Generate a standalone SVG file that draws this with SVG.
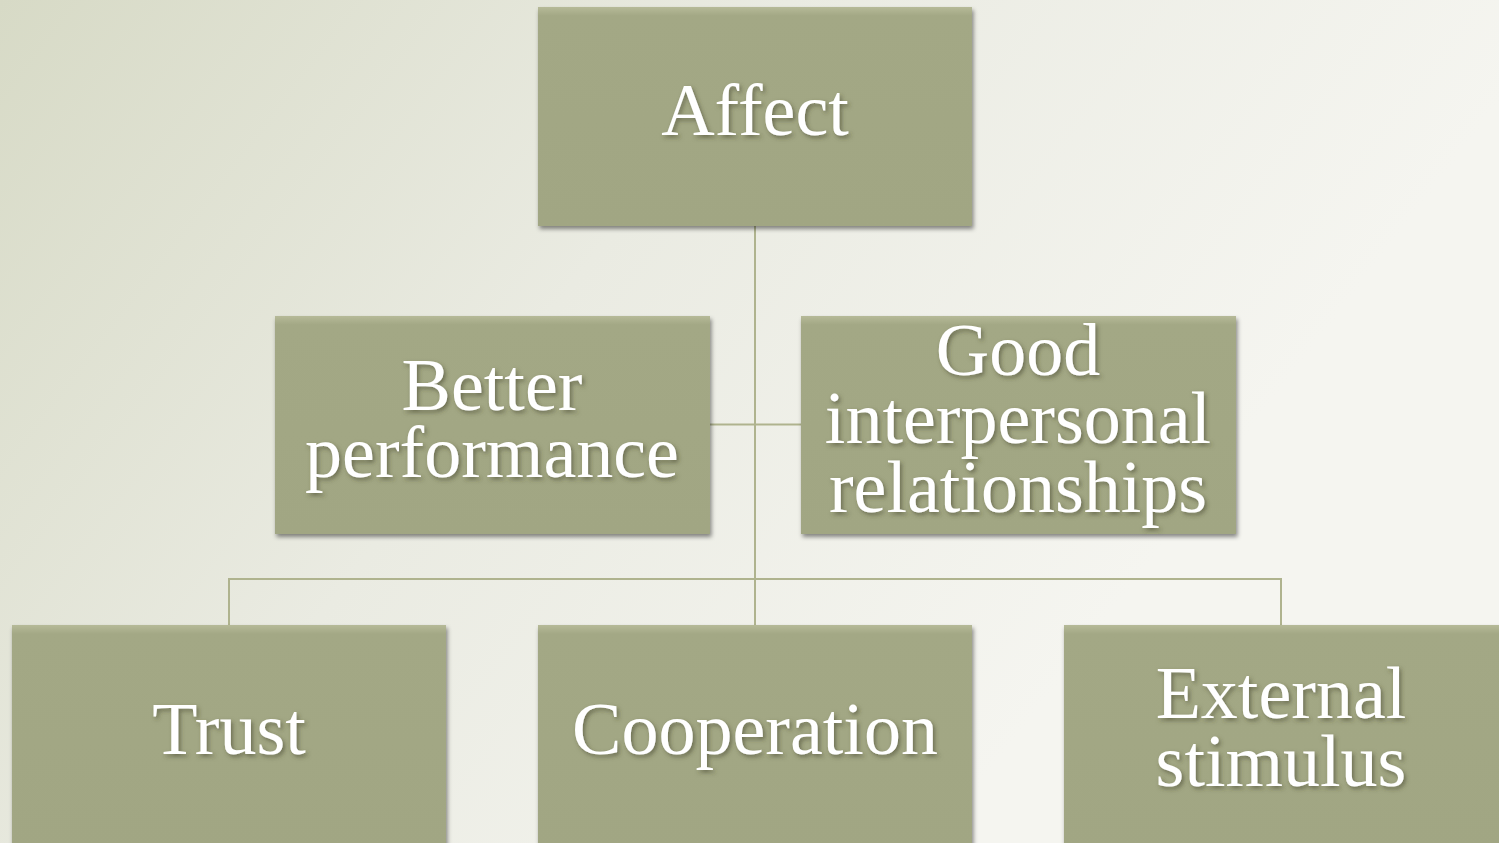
<svg xmlns="http://www.w3.org/2000/svg" width="1499" height="843" viewBox="0 0 1499 843">
  <defs>
    <linearGradient id="bg" gradientUnits="userSpaceOnUse" x1="0" y1="0" x2="1000" y2="760">
      <stop offset="0" stop-color="#d7dac6"/>
      <stop offset="0.5" stop-color="#eaebe2"/>
      <stop offset="1" stop-color="#f5f5f0"/>
    </linearGradient>
    <linearGradient id="boxFill" x1="0" y1="0" x2="0" y2="1">
      <stop offset="0" stop-color="#b6ba98"/>
      <stop offset="0.04" stop-color="#a3a885"/>
      <stop offset="1" stop-color="#a1a683"/>
    </linearGradient>
    <filter id="boxShadow" x="-5%" y="-5%" width="110%" height="115%">
      <feDropShadow dx="1.5" dy="3" stdDeviation="2" flood-color="#000" flood-opacity="0.45"/>
    </filter>
    <filter id="textShadow" x="-5%" y="-10%" width="110%" height="130%">
      <feDropShadow dx="2" dy="2.5" stdDeviation="2" flood-color="#3c3f2c" flood-opacity="0.55"/>
    </filter>
  </defs>
  <style>
    .box { fill: url(#boxFill); filter: url(#boxShadow); }
    .label { font-family: "Liberation Serif", "DejaVu Serif", serif; font-size: 74px; fill: #ffffff; text-anchor: middle; filter: url(#textShadow); }
    .link { stroke: #afb38e; stroke-width: 2; fill: none; }
  </style>

  <rect width="1499" height="843" fill="url(#bg)"/>

  <!-- tree connectors -->
  <g id="connectors">
    <path class="link" d="M755 226 V625"/>
    <path class="link" d="M709 424.5 H801"/>
    <path class="link" d="M229 625 V579 H1281 V625"/>
  </g>

  <g id="node-affect">
    <rect class="box" x="538" y="7" width="434" height="219"/>
    <text class="label" x="755" y="135">Affect</text>
  </g>

  <g id="node-better-performance">
    <rect class="box" x="275" y="316" width="435" height="218"/>
    <text class="label" x="492" y="410">Better</text>
    <text class="label" x="492" y="477">performance</text>
  </g>

  <g id="node-good-relationships">
    <rect class="box" x="801" y="316" width="435" height="218"/>
    <text class="label" x="1018" y="375">Good</text>
    <text class="label" x="1018" y="443">interpersonal</text>
    <text class="label" x="1018" y="512">relationships</text>
  </g>

  <g id="node-trust">
    <rect class="box" x="12" y="625" width="434" height="225"/>
    <text class="label" x="229" y="754">Trust</text>
  </g>

  <g id="node-cooperation">
    <rect class="box" x="538" y="625" width="434" height="225"/>
    <text class="label" x="755" y="754">Cooperation</text>
  </g>

  <g id="node-external-stimulus">
    <rect class="box" x="1064" y="625" width="440" height="225"/>
    <text class="label" x="1281" y="718">External</text>
    <text class="label" x="1281" y="786">stimulus</text>
  </g>
</svg>
